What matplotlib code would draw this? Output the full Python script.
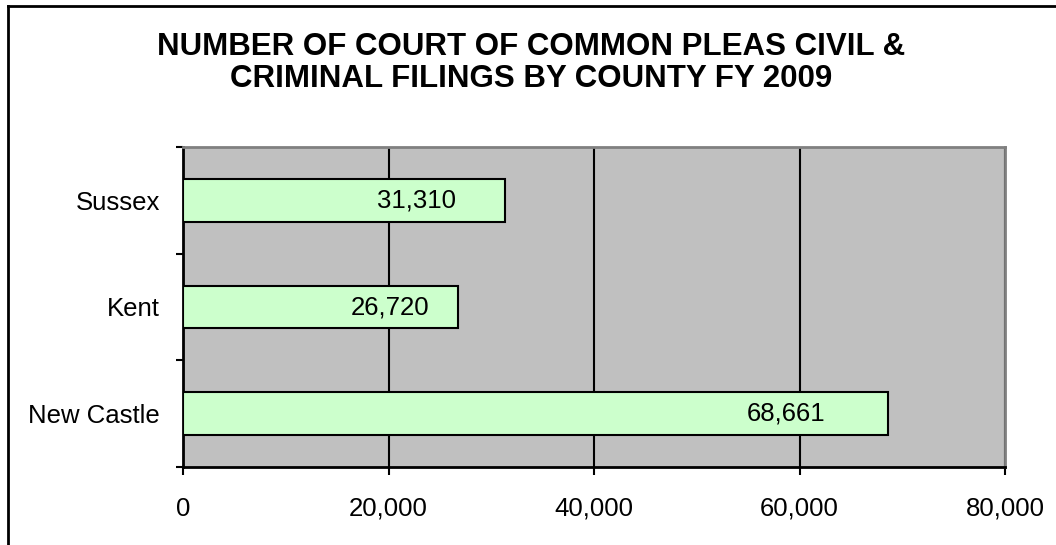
import matplotlib
matplotlib.use("Agg")
import matplotlib.pyplot as plt
from matplotlib.lines import Line2D
from matplotlib.ticker import FuncFormatter, FixedLocator

plt.rcParams['font.family'] = ['Liberation Sans', 'DejaVu Sans']

# Data
counties = ["New Castle", "Kent", "Sussex"]
filings = [68661, 26720, 31310]
x_ticks = [0, 20000, 40000, 60000, 80000]
title = "NUMBER OF COURT OF COMMON PLEAS CIVIL &\nCRIMINAL FILINGS BY COUNTY FY 2009"

# Style
label_gap_px = [63, 28, 49]  # gap between label right edge and bar end
W, H, DPI = 1056, 545, 100

fig = plt.figure(figsize=(W / DPI, H / DPI), dpi=DPI)
fig.patch.set_facecolor("white")

left, right, top, bottom = 183, 1005, 147, 467
ax = fig.add_axes([left / W, (H - bottom) / H, (right - left) / W, (bottom - top) / H])
ax.set_facecolor("#C0C0C0")

ypos = list(range(len(counties)))
ax.barh(ypos, filings, height=0.4, color="#CCFFCC", edgecolor="black",
        linewidth=1.5, zorder=3)

ax.set_xlim(x_ticks[0], x_ticks[-1])
ax.set_ylim(-0.5, len(counties) - 0.5)

ax.set_xticks(x_ticks)
ax.xaxis.set_major_formatter(FuncFormatter(lambda v, p: f"{int(v):,}"))
ax.grid(axis="x", color="black", linewidth=1.5, zorder=1)
ax.set_axisbelow(True)

ax.set_yticks(ypos)
ax.set_yticklabels(counties)
ax.yaxis.set_minor_locator(FixedLocator([i - 0.5 for i in range(len(counties) + 1)]))
ax.tick_params(axis="y", which="major", length=0, pad=16.5, labelsize=18.5)
ax.tick_params(axis="y", which="minor", length=5, width=1.5, direction="out")
ax.tick_params(axis="x", which="major", length=5.5, width=1.5, direction="out",
               pad=16, labelsize=18.5)

for s in ["left", "bottom"]:
    ax.spines[s].set_color("black")
    ax.spines[s].set_linewidth(2)
for s in ["top", "right"]:
    ax.spines[s].set_color("#808080")
    ax.spines[s].set_linewidth(2)

for y, v, g in zip(ypos, filings, label_gap_px):
    ax.annotate(f"{v:,}", xy=(v, y), xytext=(-g * 72 / DPI, 0),
                textcoords="offset points", ha="right", va="center",
                fontsize=18.5, zorder=4)

fig.text(531 / W, 1 - 63 / H, title, ha="center", va="center",
         multialignment="center", fontsize=22.5, fontweight="bold",
         linespacing=1.08)

# Outer chart border (left and top edges visible)
fig.add_artist(Line2D([7.5 / W, 7.5 / W], [0, 1 - 5.5 / H], color="black",
                      linewidth=2, transform=fig.transFigure))
fig.add_artist(Line2D([7.5 / W, 1], [1 - 5.5 / H, 1 - 5.5 / H], color="black",
                      linewidth=2, transform=fig.transFigure))

fig.savefig("out.png", dpi=DPI)
